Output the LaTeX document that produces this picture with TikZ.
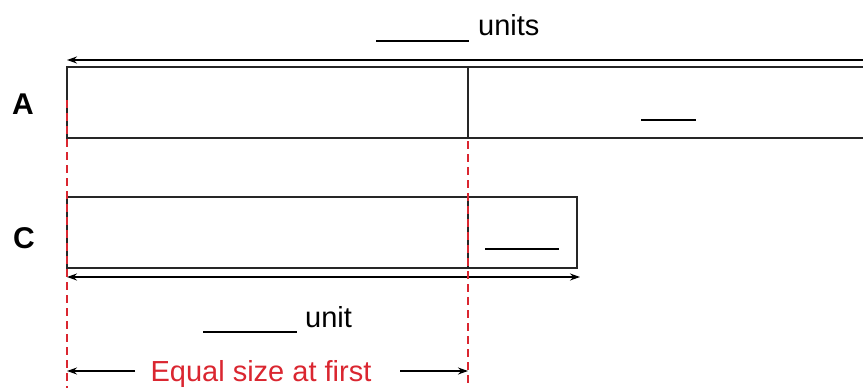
\documentclass[tikz,border=0pt]{standalone}
\usepackage{fontspec}
\setmainfont{Liberation Sans}
\usetikzlibrary{arrows.meta,calc,positioning}
\definecolor{guidered}{RGB}{218,38,48}
\tikzset{bar/.style={draw=black!85,line width=1.3pt},
	blank/.style={line width=1.8pt},
	guide/.style={guidered,line width=2.8pt,dash pattern=on 8pt off 5pt},
	span/.style={line width=1.4pt,arrows = {-Stealth[length=10pt, width=7pt]}},
	word/.style={font=\fontsize{29}{34}\selectfont,inner sep=0pt,anchor=base west},
	tag/.style={font=\fontsize{30}{36}\selectfont\bfseries,inner sep=0pt}}

\begin{document}
\begin{tikzpicture}[x=1pt,y=-1pt]
	\useasboundingbox (0,0) rectangle (863,388);
	
	% bar A
	\draw[bar] (863,67) -- (67,67) -- (67,138) -- (863,138);
	\draw[bar] (468,67) -- (468,138);
	\node[tag] (A) at (23,104) {A};
	\draw[blank] (641,120) -- (696,120);
	
	% bar C
	\draw[bar] (67,197) rectangle (577,268);
	\draw[bar] (468,197) -- (468,268);
	\node[tag] (C) at (24,238) {C};
	\draw[blank] (485,249) -- (559,249);
	
	% lengths
	\coordinate (topR) at (863,60);
	\coordinate (topL) at (67,60);
	\draw[span] (topR) -- (topL);
	\node[word] (units) at (478,35) {units};
	\draw[blank] (376,41) -- (469,41);
	
	\coordinate (lowL) at (67,277);
	\coordinate (lowR) at (580,277);
	\draw[span,arrows = {Stealth[length=10pt, width=7pt]-Stealth[length=10pt, width=7pt]}] (lowL) -- (lowR);
	\node[word] (unit) at (305,327) {unit};
	\draw[blank] (203,332) -- (297,332);
	
	% equal parts
	\coordinate (eqL) at (67,100);
	\coordinate (eqR) at (468,141);
	\draw[guide] (eqL) -- (67,388);
	\draw[guide] (eqR) -- (468,388);
	\node[word,anchor=base,text=guidered] (equal) at (261,381) {Equal size at first};
	\draw[span,line width=1.2pt] (135,371) -- (eqL |- 0,371);
	\draw[span,line width=1.2pt] (400,371) -- (eqR |- 0,371);
\end{tikzpicture}
\end{document}
